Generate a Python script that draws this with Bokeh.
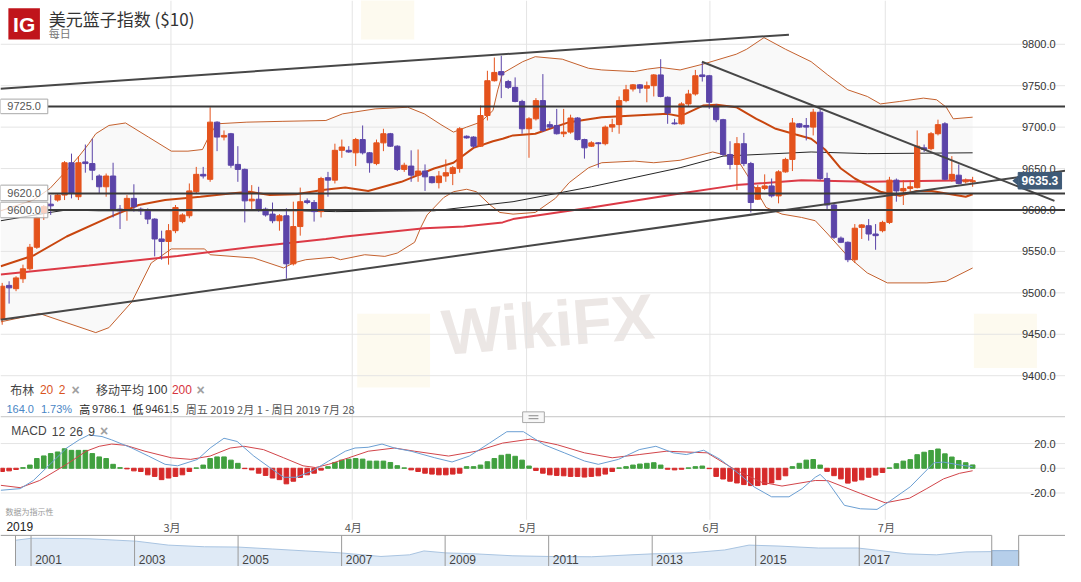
import numpy as np
from bokeh.plotting import figure
from bokeh.models import Range1d, ColumnDataSource
from bokeh.core.properties import value
from bokeh.embed import file_html
from bokeh.resources import INLINE

# ------------------------------------------------------------------ data
opens = [9468,9509,9505,9517,9529,9555,9597,9607,9612,9618,
         9657,9616,9658,9656,9641,9628,9641,9601,9600,9614,
         9601,9600,9589,9565,9562,9575,9586,9593,9622,9643,
         9637,9706,9688,9692,9655,9649,9611,9613,9601,9595,
         9587,9593,9535,9580,9611,9609,9598,9639,9636,9672,
         9672,9669,9685,9669,9656,9681,9692,9677,9649,9653,
         9642,9647,9640,9633,9641,9644,9650,9689,9688,9677,
         9714,9756,9767,9755,9748,9731,9698,9710,9732,9703,
         9702,9692,9694,9711,9685,9677,9681,9680,9700,9703,
         9732,9746,9751,9747,9750,9763,9736,9705,9704,9728,
         9740,9763,9762,9725,9709,9667,9655,9680,9656,9613,
         9626,9629,9617,9646,9661,9704,9702,9700,9718,9638,
         9606,9566,9561,9540,9579,9581,9571,9575,9585,9636,
         9623,9626,9627,9675,9674,9692,9704,9637,9642,9634,
         9634]
highs = [9512,9514,9520,9534,9559,9592,9606,9618,9620,9659,
         9668,9665,9679,9686,9643,9644,9657,9606,9618,9631,
         9603,9602,9590,9575,9583,9606,9596,9632,9652,9652,
         9724,9707,9696,9693,9677,9650,9630,9628,9603,9609,
         9595,9602,9610,9627,9614,9612,9640,9646,9680,9685,
         9677,9687,9702,9670,9685,9698,9693,9678,9657,9672,
         9673,9655,9641,9647,9661,9653,9700,9690,9689,9726,
         9768,9784,9786.1,9757,9760,9733,9712,9735,9764,9707,
         9722,9722,9715,9712,9686,9683,9682,9702,9710,9737,
         9751,9752,9752,9755,9764,9782,9737,9710,9730,9745,
         9769,9778,9763,9728,9710,9683,9688,9693,9658,9630,
         9643,9638,9648,9663,9711,9705,9711,9722,9722,9645,
         9608,9568,9562,9583,9583,9589,9583,9587,9640,9638,
         9636,9636,9696,9679,9694,9709,9706,9665,9655,9638,
         9640]
lows = [9461.5,9487,9502,9512,9527,9553,9588,9594,9610,9612,
        9614,9612,9645,9636,9620,9616,9591,9577,9587,9598,
        9594,9583,9544,9540,9534,9572,9584,9590,9620,9638,
        9634,9671,9684,9651,9634,9585,9600,9598,9592,9584,
        9575,9517,9533,9569,9607,9586,9591,9616,9632,9663,
        9669,9653,9667,9645,9654,9671,9676,9647,9646,9634,
        9634,9623,9632,9626,9634,9630,9645,9686,9675,9676,
        9708,9755,9735,9746,9730,9692,9663,9708,9694,9698,
        9691,9688,9692,9684,9662,9676,9651,9678,9694,9692,
        9730,9743,9741,9730,9737,9736,9704,9703,9703,9725,
        9738,9755,9722,9706,9665,9649,9624,9653,9597,9612,
        9624,9615,9608,9645,9647,9699,9684,9690,9636,9600,
        9565,9560,9537,9536,9565,9563,9552,9573,9583,9610,
        9606,9622,9626,9670,9672,9690,9636,9634,9631,9632,
        9628]
closes = [9508,9506,9518,9529,9555,9591,9604,9605,9618,9657,
          9620,9657,9656,9648,9628,9641,9600,9599,9614,9604,
          9599,9589,9565,9562,9575,9603,9594,9623,9643,9641,
          9706,9688,9690,9654,9649,9611,9613,9600,9594,9587,
          9593,9535,9580,9610,9609,9598,9638,9636,9672,9676,
          9670,9685,9669,9657,9681,9692,9677,9649,9654,9642,
          9647,9640,9633,9641,9645,9651,9698,9687,9677,9714,
          9756,9766,9763,9748,9731,9698,9710,9732,9696,9700,
          9692,9694,9711,9685,9675,9681,9680,9700,9703,9732,
          9745,9751,9747,9750,9763,9737,9717,9704,9728,9740,
          9762,9761,9730,9709,9667,9655,9680,9656,9609,9627,
          9629,9617,9646,9661,9705,9700,9700,9718,9638,9606,
          9567,9561,9540,9578,9582,9571,9569,9585,9636,9623,
          9626,9628,9677,9673,9692,9703,9637,9643,9632,9636,
          9635.3]
last_price = 9635.3

# Bollinger (20, 2): candle index -> price
bb_upper_x = [-0.2, 4.5, 6.9, 9.0, 11.1, 12.5, 13.5, 15.4, 17.8, 21.1, 24.4, 26.8, 28.9, 29.9,
              31.0, 35.3, 40.5, 46.7, 49.1, 53.8, 58.5, 60.9, 63.3, 65.1, 67.0, 69.0, 70.8, 71.5,
              72.2, 75.1, 76.9, 80.8, 84.6, 86.5, 91.2, 93.1, 95.0, 97.8, 101.1, 105.9, 107.4,
              109.9, 113.0, 116.7, 119.1, 122.0, 124.8, 126.7, 129.5, 132.9, 134.8, 136.2, 137.2, 140.0]
bb_upper = [9599, 9612, 9626, 9645, 9665, 9680, 9692, 9702, 9705, 9688, 9671, 9671, 9673, 9690,
            9704, 9706, 9707, 9708, 9716, 9722, 9724, 9716, 9703, 9694, 9700, 9706, 9720, 9745,
            9765, 9779, 9785, 9782, 9771, 9769, 9767, 9770, 9772, 9769, 9776, 9788, 9794,
            9808, 9794, 9779, 9763, 9745, 9737, 9728, 9731, 9735, 9733, 9724, 9710, 9712]
bb_mid_x = [-0.2, 4.5, 9.3, 15.4, 19.7, 23.5, 28.6, 32.9, 35.7, 38.6, 42.4, 46.2, 49.5, 52.8,
            57.6, 62.3, 65.1, 68.0, 70.8, 72.2, 73.7, 76.9, 81.8, 86.5, 91.2, 96.0, 97.8, 101.1,
            103.1, 105.9, 108.8, 111.6, 114.5, 116.7, 118.7, 121.0, 123.0, 124.8, 126.7, 129.5,
            131.9, 134.1, 136.2, 139.0, 140.0]
bb_mid = [9532, 9545, 9568, 9591, 9606, 9612, 9616, 9620, 9622, 9618, 9619, 9624, 9627, 9623,
          9634, 9650, 9657, 9675, 9683, 9686, 9690, 9692, 9706, 9712, 9714, 9716, 9713, 9726,
          9727, 9724, 9710, 9698, 9691, 9686, 9673, 9650, 9638, 9630, 9622, 9617,
          9623, 9623, 9620, 9616, 9619]
bb_lower_x = [-0.2, 5.4, 13.5, 15.4, 18.7, 21.5, 24.4, 29.2, 30.0, 36.3, 40.6, 42.0, 43.8, 47.7,
              48.8, 52.3, 55.2, 57.0, 59.5, 60.4, 61.3, 63.7, 65.1, 67.0, 68.4, 70.4, 71.8, 73.7,
              76.9, 79.8, 81.8, 84.6, 86.5, 91.2, 94.0, 97.8, 102.5, 105.9, 107.8, 110.2, 112.5,
              115.3, 117.3, 119.1, 122.0, 124.8, 127.7, 133.4, 136.2, 140.0]
bb_lower = [9465, 9475, 9452, 9458, 9489, 9536, 9553, 9553, 9546, 9542, 9530, 9536, 9540, 9543,
            9540, 9546, 9544, 9548, 9561, 9579, 9594, 9615, 9622, 9625, 9622, 9606, 9597, 9595,
            9597, 9614, 9633, 9651, 9657, 9659, 9657, 9660, 9670, 9663, 9638, 9603, 9595,
            9591, 9587, 9571, 9544, 9524, 9512, 9512, 9514, 9530]

ma100_x = [-0.2, 6.9, 9.3, 14.0, 28.2, 42.4, 48.1, 62.3, 73.7, 85.0, 97.8, 104.0, 116.7, 124.8, 140.0]
ma100 = [9587, 9597, 9600, 9599, 9599, 9599, 9598, 9599, 9610, 9628, 9651, 9665, 9670, 9668, 9669]
ma200_x = [-0.2, 12.5, 25.3, 36.7, 46.7, 49.5, 60.9, 66.6, 72.2, 73.7, 85.0, 97.8, 105.9, 115.3, 124.8, 140.0]
ma200 = [9522, 9533, 9544.5, 9556, 9565, 9568, 9578, 9580, 9585, 9589, 9603, 9620, 9630, 9636, 9634, 9636]

# MACD (12, 26, 9)
macd_x = [-0.2, 2.6, 4.5, 6.9, 9.3, 11.1, 12.5, 14.4, 15.8, 18.7, 21.1, 23.5, 25.3, 28.2, 30.0,
          32.0, 33.9, 36.3, 38.6, 40.6, 42.4, 44.8, 47.1, 49.5, 50.9, 52.8, 54.8, 56.6, 59.0,
          62.4, 64.9, 67.4, 70.3, 72.8, 75.2, 78.2, 81.1, 84.0, 86.0, 88.9, 91.9, 94.3, 96.8,
          98.7, 101.2, 103.6, 106.6, 108.5, 111.0, 113.5, 115.4, 117.3, 118.0, 119.1, 121.5,
          123.8, 126.2, 127.7, 131.0, 134.4, 135.8, 138.1, 140.0]
macd_line = [-17.8, -16.5, -9.9, 3.2, 16.4, 23.0, 27.0, 25.7, 23.0, 16.4, 9.9, 3.2, 2.0, 7.2, 16.4,
             24.3, 21.7, 9.9, 0.6, -7.3, -7.3, -2.0, 5.9, 13.8, 16.4, 17.0, 19.6, 16.4, 13.8,
             8.5, 5.1, 9.9, 20.4, 29.6, 29.6, 19.0, 12.5, 5.9, 3.2, 7.2, 15.1, 17.8, 12.5,
             11.1, 14.6, 7.2, -5.9, -15.2, -23.1, -23.1, -16.5, -7.3, -5.0, -11.0, -30.0,
             -32.8, -33.3, -28.0, -15.0, 4.4, 5.0, 2.7, 1.3]
signal_x = [-0.2, 2.6, 5.4, 9.3, 12.1, 14.0, 15.8, 17.8, 20.6, 24.4, 27.2, 30.0, 32.9, 34.9, 37.7,
            40.6, 43.4, 45.2, 47.1, 50.0, 52.8, 56.6, 59.5, 64.4, 68.4, 72.2, 76.2, 80.1, 84.0,
            88.0, 91.9, 95.8, 101.7, 105.6, 109.5, 112.5, 117.3, 119.1, 123.8, 127.4, 130.9,
            133.4, 135.8, 138.1, 140.0]
signal_line = [-13.8, -15.7, -9.9, 3.2, 13.8, 17.8, 19.6, 18.6, 13.8, 8.5, 7.2, 9.9, 16.4, 17.8, 15.1,
               8.5, 2.0, 0.6, 3.2, 8.5, 13.8, 16.4, 13.8, 9.9, 13.8, 20.4, 23.6, 19.0, 12.5,
               8.5, 11.1, 13.8, 12.5, -0.7, -11.2, -14.4, -9.9, -10.0, -20.3, -28.0, -24.2,
               -16.4, -8.6, -4.1, -2.0]
macd_hist = [-2.6, -2.1, -1.0, 0.5, 2.6, 7.9, 10.0, 11.9, 13.2, 15.8,
             14.5, 14.5, 14.5, 11.9, 9.2, 7.9, 3.2, 0.5, -0.5, -2.1,
             -2.6, -5.3, -6.6, -9.2, -7.9, -6.6, -5.3, -2.6, 0.3, 2.6,
             7.9, 9.2, 9.2, 6.6, 4.0, -0.3, -1.3, -4.0, -5.8, -7.9,
             -9.2, -12.6, -10.5, -7.4, -5.3, -4.0, -1.5, 1.3, 4.7, 6.6,
             7.4, 7.9, 7.4, 5.8, 5.8, 5.8, 4.7, 2.1, 0.3, -1.3,
             -2.6, -4.0, -4.7, -5.3, -5.3, -4.7, -4.0, 1.3, 1.3, 2.6,
             5.3, 7.9, 10.5, 11.3, 9.7, 6.6, 1.8, -1.8, -4.0, -5.3,
             -5.8, -6.1, -6.6, -6.6, -7.1, -6.6, -6.1, -4.7, -2.6, 0.3,
             1.3, 2.6, 3.4, 4.0, 4.5, 2.6, -0.8, -1.3, -0.8, 0.3,
             1.3, 1.8, -0.3, -6.6, -8.7, -10.5, -11.9, -13.2, -14.0, -14.0,
             -13.2, -11.9, -9.2, -6.1, 1.3, 4.0, 6.6, 7.1, 2.6, -2.5,
             -6.0, -8.6, -12.0, -10.4, -9.4, -7.3, -5.5, -3.4, 0.3, 3.7,
             5.8, 7.0, 11.0, 13.0, 14.4, 15.6, 11.7, 9.1, 6.3, 4.5,
             2.7]

price_ticks = [9400, 9450, 9500, 9550, 9600, 9650, 9700, 9750, 9800]
macd_ticks = [-20, 0, 20]
month_pos = [24.35, 50.5, 75.65, 102.1, 127.4]
month_labels = ["3月", "4月", "5月", "6月", "7月"]
levels = [9725.0, 9620.0, 9600.0]

# user-drawn trend lines (candle index, price)
chan_top_x, chan_top = [-0.24, 113.5], [9746.4, 9811.6]
chan_bot_x, chan_bot = [-0.24, 153.4], [9467.6, 9647.4]
down_x, down_y = [100.95, 151.8], [9778.9, 9611.0]

# navigator (history overview)
nav_years = [2000.70, 2001.0, 2001.55, 2002.12, 2003.04, 2003.65, 2004.35, 2005.0, 2005.66, 2006.31,
             2006.98, 2007.76, 2008.31, 2008.59, 2009.01, 2009.58, 2010.31, 2011.01, 2011.83,
             2012.59, 2013.01, 2013.73, 2014.40, 2014.87, 2015.45, 2016.21, 2016.97, 2017.31,
             2017.92, 2018.49, 2019.06, 2019.56]
nav_vals = [11375, 11625, 11625, 11563, 11250, 10750, 10538, 10500, 10250, 10000,
            9750, 9288, 9500, 10000, 9750, 9625, 9375, 9288, 9250,
            9500, 9625, 9750, 10125, 10750, 10625, 10375, 10375, 10125,
            9625, 9500, 9875, 9913]
nav_sel = [2019.56, 2020.08]
nav_sel_val = 10037
nav_ticks = [2001, 2003, 2005, 2007, 2009, 2011, 2013, 2015, 2017]

# ------------------------------------------------------------------ layout helpers
def ix(xr):  # reference pixel x -> candle index
    return (xr - 1.7) / 7.036

def pv(yr):  # reference pixel y -> price
    return 9800 - (yr - 45) / 0.852

def mv(yr):  # reference pixel y -> macd value
    return (481.0 - yr) / 1.27

def nx(xr):
    return 2000.41 + xr / 52.54

def nv(yr):
    return 8000 + (582 - yr) * 125

SANS = "Liberation Sans"
CJK = "Noto Sans CJK SC"

p = figure(width=1065, height=566, output_backend="svg", toolbar_location=None,
           x_range=Range1d(ix(0), ix(1081)), y_range=Range1d(pv(582), pv(0)),
           x_axis_location=None, y_axis_location=None, min_border=0,
           min_border_left=0, min_border_right=0, min_border_top=0, min_border_bottom=0,
           outline_line_color=None, background_fill_color="white", border_fill_color="white")
p.grid.visible = False
p.extra_y_ranges = {"macd": Range1d(mv(582), mv(0)), "nav": Range1d(nv(582), nv(0))}
p.extra_x_ranges = {"nav": Range1d(nx(0), nx(1081))}


def T(xr, yr, s, size="12px", color="#333333", align="left", font=SANS, style="normal",
      baseline="middle", angle=0.0, alpha=1.0):
    p.text(x=[ix(xr)], y=[pv(yr)], text=[s], text_font=value(font), text_font_size=size,
           text_color=color, text_align=align, text_baseline=baseline, text_font_style=style,
           angle=angle, text_alpha=alpha)

# ------------------------------------------------------------------ background / watermark
bx = list(bb_upper_x) + list(bb_lower_x[::-1])
by = list(bb_upper) + list(bb_lower[::-1])
p.patch(bx, by, fill_color="#f4f4f4", fill_alpha=0.55, line_color=None)

for (l, r, t, b) in [(362, 436, 322, 398), (366, 420, -6, 40), (988, 1052, 322, 378)]:
    p.quad(left=[ix(l)], right=[ix(r)], top=[pv(t)], bottom=[pv(b)],
           fill_color="#fbf3dc", fill_alpha=0.45, line_color=None)
T(448, 342, "WikiFX", size="64px", color="#ece7e5", font=SANS, style="bold", angle=0.08)

# grid lines
n = len(price_ticks)
p.segment(x0=[ix(0)] * n, y0=price_ticks, x1=[ix(1081)] * n, y1=price_ticks,
          line_color="#e4e4e4", line_width=1)
m = len(macd_ticks)
p.segment(x0=[ix(0)] * m, y0=macd_ticks, x1=[ix(1081)] * m, y1=macd_ticks,
          line_color="#e4e4e4", line_width=1, y_range_name="macd")
k = len(month_pos)
p.segment(x0=month_pos, y0=[pv(0)] * k, x1=month_pos, y1=[pv(534)] * k,
          line_color="#e4e4e4", line_width=1)

# ------------------------------------------------------------------ indicators
p.line(bb_upper_x, bb_upper, line_color="#c4612e", line_width=1)
p.line(bb_lower_x, bb_lower, line_color="#c4612e", line_width=1)
p.line(ma100_x, ma100, line_color="#262626", line_width=1)
p.line(ma200_x, ma200, line_color="#dc3a46", line_width=2)
p.line(bb_mid_x, bb_mid, line_color="#c8460f", line_width=2)

# ------------------------------------------------------------------ candles
idx = np.arange(len(opens))
o = np.array(opens, dtype=float)
c = np.array(closes, dtype=float)
up = c >= o
col = np.where(up, "#e4531d", "#5b44a8")
src = ColumnDataSource(dict(x=idx, hi=highs, lo=lows, top=np.maximum(o, c), bot=np.minimum(o, c), col=col))
p.segment(x0="x", y0="lo", x1="x", y1="hi", line_color="col", line_width=1, source=src)
p.vbar(x="x", width=0.76, top="top", bottom="bot", fill_color="col", line_color="col",
       line_width=1, source=src)

# ------------------------------------------------------------------ trend lines & levels
p.line(chan_top_x, chan_top, line_color="#474747", line_width=2)
p.line(chan_bot_x, chan_bot, line_color="#474747", line_width=2)
p.line(down_x, down_y, line_color="#474747", line_width=2)
nl = len(levels)
p.segment(x0=[ix(48)] * nl, y0=levels, x1=[ix(1081)] * nl, y1=levels, line_color="#3a3a3a", line_width=2)
for lv, (t_off, b_off) in zip(levels, [(-7.5, 7.5), (-8.5, 7.5), (-8.0, 8.0)]):
    yc = 45 + (9800 - lv) * 0.852
    p.quad(left=[ix(0)], right=[ix(48)], top=[pv(yc + t_off)], bottom=[pv(yc + b_off)],
           fill_color="white", fill_alpha=0.72, line_color="#a8a8a8", line_width=1)
    T(24, yc, f"{lv:.1f}", size="11px", color="#555555", align="center")

# ------------------------------------------------------------------ price axis labels
for v in price_ticks:
    T(1071, 45 + (9800 - v) * 0.852, f"{v:.1f}", size="11px", color="#333333", align="right")

# last price tag
p.patch([ix(1027), ix(1033), ix(1033)], [last_price, last_price + 6, last_price - 6],
        fill_color="#3e5a77", line_color=None)
p.quad(left=[ix(1033)], right=[ix(1077)], top=[last_price + 10], bottom=[last_price - 10],
       fill_color="#3e5a77", line_color="#3e5a77")
p.text(x=[ix(1055)], y=[last_price], text=[f"{last_price:.1f}"], text_font=value(SANS),
       text_font_size="12px", text_font_style="bold", text_color="white",
       text_align="center", text_baseline="middle")

# ------------------------------------------------------------------ header
p.quad(left=[ix(8)], right=[ix(40)], top=[pv(8)], bottom=[pv(40)], fill_color="#c0141b", line_color=None)
T(24, 25, "IG", size="21px", color="white", align="center", style="bold")
T(49, 18, "美元篮子指数 ($10)", size="17px", color="#333333", font=CJK)
T(49, 33, "每日", size="11px", color="#777777", font=CJK)

# legend rows
T(10, 400, "布林", size="12px", color="#444444", font=CJK)
T(40, 400, "20", size="12px", color="#d9541e")
T(59, 400, "2", size="12px", color="#d9541e")
T(72, 400, "×", size="14px", color="#a0a0a0", style="bold")
T(97, 400, "移动平均", size="12px", color="#444444", font=CJK)
T(149, 400, "100", size="12px", color="#333333")
T(174, 400, "200", size="12px", color="#d6343e")
T(199, 400, "×", size="14px", color="#a0a0a0", style="bold")
T(6, 420, "164.0", size="11px", color="#4a86c5")
T(41, 420, "1.73%", size="11px", color="#4a86c5")
T(80, 420, "高", size="11px", color="#222222", font=CJK)
T(93, 420, "9786.1", size="11px", color="#333333")
T(134, 420, "低", size="11px", color="#222222", font=CJK)
T(147, 420, "9461.5", size="11px", color="#333333")
T(188, 420, "周五 2019 2月 1 - 周日 2019 7月 28", size="11px", color="#555555", font=CJK)

# panel separator + handle
p.segment(x0=[ix(0)], y0=[pv(428)], x1=[ix(1081)], y1=[pv(428)], line_color="#c4c4c4", line_width=1)
p.quad(left=[ix(530)], right=[ix(552)], top=[pv(423)], bottom=[pv(434)], fill_color="#f7f7f7",
       line_color="#a8a8a8", line_width=1)
p.segment(x0=[ix(536), ix(536)], y0=[pv(427), pv(430)], x1=[ix(546), ix(546)], y1=[pv(427), pv(430)],
          line_color="#888888", line_width=1)

# ------------------------------------------------------------------ MACD panel
hist = np.array(macd_hist)
hcol = np.where(hist >= 0, "#41a03f", "#d62a2a")
p.vbar(x=idx, width=0.66, top=hist, bottom=0, fill_color=hcol, line_color=hcol,
       y_range_name="macd")
p.line(signal_x, signal_line, line_color="#d2454a", line_width=1, y_range_name="macd")
p.line(macd_x, macd_line, line_color="#6b9fd3", line_width=1, y_range_name="macd")

T(11, 443, "MACD", size="12px", color="#444444")
T(52, 443, "12", size="12px", color="#444444")
T(70, 443, "26", size="12px", color="#444444")
T(89, 443, "9", size="12px", color="#444444")
T(101, 443, "×", size="14px", color="#a0a0a0", style="bold")
for v in macd_ticks:
    T(1071, 481.0 - v * 1.27, f"{v:.1f}", size="11px", color="#333333", align="right")
T(5, 525, "数据为指示性", size="8px", color="#999999", font=CJK)

# x axis (months)
T(6, 541, "2019", size="12px", color="#222222")
for mp, ml in zip(month_pos, month_labels):
    p.text(x=[mp + 0.15], y=[pv(541)], text=[ml], text_font=value(CJK), text_font_size="11px",
           text_color="#555555", text_align="center", text_baseline="middle")

# ------------------------------------------------------------------ navigator
p.varea(x=nav_years, y1=[8000] * len(nav_years), y2=nav_vals, fill_color="#dfeaf6",
        x_range_name="nav", y_range_name="nav")
p.line(nav_years, nav_vals, line_color="#a9c4e1", line_width=1, x_range_name="nav", y_range_name="nav")
p.quad(left=[nav_sel[0]], right=[nav_sel[1]], bottom=[8000], top=[nav_sel_val],
       fill_color="#b6cfea", line_color="#8fb0d6", x_range_name="nav", y_range_name="nav")
nt = len(nav_ticks)
p.segment(x0=nav_ticks, y0=[8000] * nt, x1=nav_ticks, y1=[12000] * nt, line_color="#9a9a9a",
          line_width=1, x_range_name="nav", y_range_name="nav")
p.segment(x0=[nav_years[0], nav_sel[0], nav_sel[1]], y0=[8000] * 3,
          x1=[nav_years[0], nav_sel[0], nav_sel[1]], y1=[12000] * 3,
          line_color="#9a9a9a", line_width=1, x_range_name="nav", y_range_name="nav")
p.segment(x0=[nx(0), nav_sel[1]], y0=[12000, 12000], x1=[nav_sel[0], nx(1081)], y1=[12000, 12000],
          line_color="#9a9a9a", line_width=1, x_range_name="nav", y_range_name="nav")
p.text(x=[t + 0.08 for t in nav_ticks], y=[nv(575)] * nt, text=[str(t) for t in nav_ticks],
       text_font=value(SANS), text_font_size="12px", text_color="#444444",
       text_align="left", text_baseline="middle", x_range_name="nav", y_range_name="nav")

open("out.html", "w").write(file_html(p, INLINE))
